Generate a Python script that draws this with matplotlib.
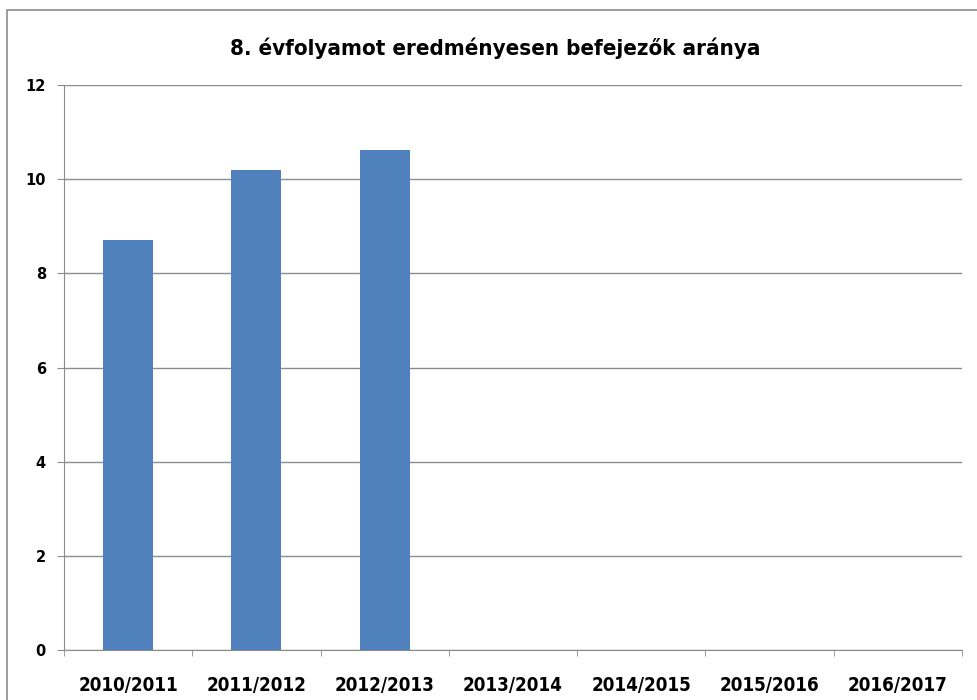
import matplotlib.pyplot as plt
from matplotlib.patches import Rectangle

# chart data
years = ["2010/2011", "2011/2012", "2012/2013", "2013/2014",
         "2014/2015", "2015/2016", "2016/2017"]
values = [8.71, 10.2, 10.61, 0, 0, 0, 0]
title = "8. évfolyamot eredményesen befejezők aránya"

plt.rcParams['font.family'] = ['DejaVu Sans']

fig = plt.figure(figsize=(9.78, 7.0), dpi=100)
ax = fig.add_axes([64 / 978, 1 - 650 / 700, (962 - 64) / 978, (650 - 85) / 700])

x = range(len(years))
ax.bar(x, values, width=0.39, color="#4f81bd", zorder=3)

ax.set_xlim(-0.5, len(years) - 0.5)
ax.set_ylim(0, 12)
ax.set_yticks([0, 2, 4, 6, 8, 10, 12])
ax.yaxis.grid(True, color="#8c8c8c", linewidth=1)
ax.set_axisbelow(True)

# category labels between boundary ticks
ax.set_xticks(list(x))
ax.set_xticklabels(years, fontsize=13.5, fontweight="bold", fontstretch="condensed")
ax.set_xticks([i - 0.5 for i in range(len(years) + 1)], minor=True)
ax.tick_params(axis="x", which="major", length=0, pad=19)
ax.tick_params(axis="x", which="minor", length=4.5, color="#8c8c8c", direction="out")
ax.tick_params(axis="y", length=5, color="#8c8c8c", labelsize=10.5, pad=8)
for lbl in ax.get_yticklabels():
    lbl.set_fontweight("bold")

for side in ["top", "right"]:
    ax.spines[side].set_visible(False)
for side in ["left", "bottom"]:
    ax.spines[side].set_color("#8c8c8c")

fig.text(495 / 978, 1 - 55 / 700, title, ha="center", va="baseline",
         fontsize=16, fontweight="bold", fontstretch="condensed")

# outer chart frame
fig.patches.append(Rectangle((7 / 978, -0.01), 1.0, 1 - 10 / 700 + 0.01,
                             transform=fig.transFigure, fill=False,
                             edgecolor="#8c8c8c", linewidth=1.2))

fig.savefig("out.png", dpi=100)
